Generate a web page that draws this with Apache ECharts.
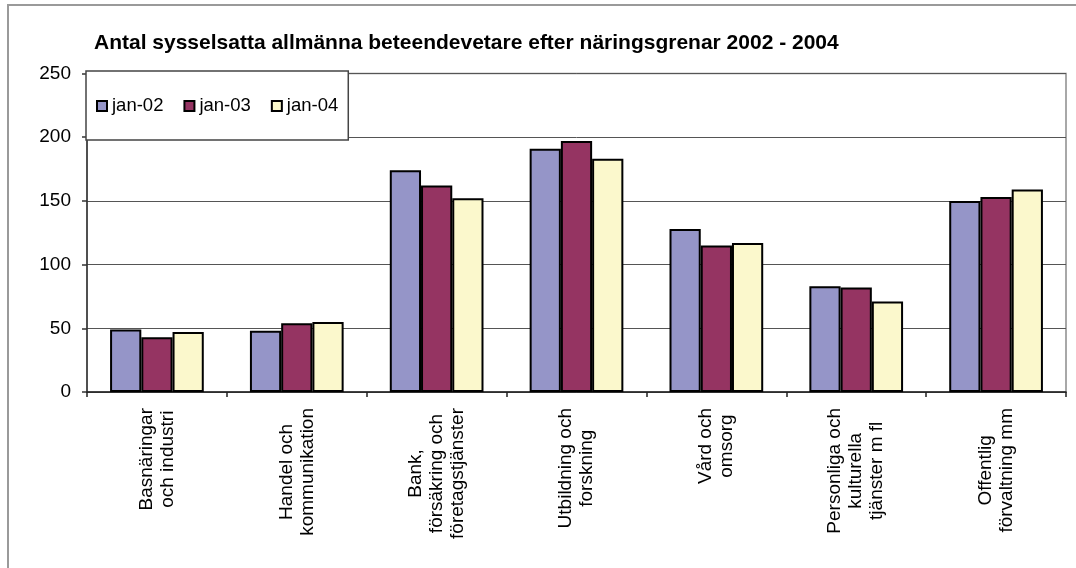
<!DOCTYPE html>
<html>
<head>
<meta charset="utf-8">
<title>Antal sysselsatta allmänna beteendevetare</title>
<script src="https://cdn.jsdelivr.net/npm/echarts@6/dist/echarts.min.js"></script>
<style>
  html, body { margin: 0; padding: 0; background: #fff; }
  #chart { width: 1076px; height: 568px; }
</style>
</head>
<body>
<div id="chart"></div>
<script>
  var categories = [
    'Basnäringar\noch industri',
    'Handel och\nkommunikation',
    'Bank,\nförsäkring och\nföretagstjänster',
    'Utbildning och\nforskning',
    'Vård och\nomsorg',
    'Personliga och\nkulturella\ntjänster m fl',
    'Offentlig\nförvaltning mm'
  ];
  var seriesNames = ['jan-02', 'jan-03', 'jan-04'];
  var jan02 = [49, 48, 174, 191, 128, 83, 150];
  var jan03 = [43, 54, 162, 197, 115, 82, 153];
  var jan04 = [47, 55, 152, 183, 117, 71, 159];
  var yTicks = [0, 50, 100, 150, 200, 250];

  var colors = ['#9595c8', '#953462', '#fbf8cc'];
  var font = "'Liberation Sans', Arial, sans-serif";

  var chart = echarts.init(document.getElementById('chart'));

  function barSeries(name, data) {
    return {
      name: name,
      type: 'bar',
      data: data,
      barGap: '0%',
      barCategoryGap: '33%',
      itemStyle: {
        borderColor: '#000',
        borderWidth: 2
      }
    };
  }

  // x labels: lines centred on each other, block ends near the axis
  function labelFormatter(value) {
    return value.split('\n').map(function(line) {
      return '{c|' + line + '}';
    }).join('\n');
  }

  var option = {
    animation: false,
    color: colors,
    textStyle: { fontFamily: font },
    graphic: [{
      type: 'rect',
      shape: { x: 8, y: 5, width: 1200, height: 700 },
      style: { fill: 'none', stroke: '#9a9a9a', lineWidth: 2 },
      silent: true
    }],
    title: {
      text: 'Antal sysselsatta allmänna beteendevetare efter näringsgrenar 2002 - 2004',
      left: 94,
      top: 33,
      padding: 0,
      textStyle: {
        fontFamily: font,
        fontSize: 21,
        fontWeight: 'bold',
        color: '#000'
      }
    },
    legend: {
      data: seriesNames,
      left: 86,
      top: 71,
      orient: 'horizontal',
      padding: [25, 10, 24, 10],
      itemGap: 20,
      itemWidth: 10,
      itemHeight: 10,
      icon: 'rect',
      backgroundColor: '#fff',
      borderColor: '#444',
      borderWidth: 1.5,
      borderRadius: 0,
      textStyle: {
        fontFamily: font,
        fontSize: 18.5,
        lineHeight: 20,
        color: '#000'
      }
    },
    grid: {
      left: 87,
      right: 10,
      top: 73.5,
      bottom: 176,
      show: true,
      borderColor: '#8c8c8c',
      borderWidth: 1.5,
      containLabel: false
    },
    xAxis: {
      type: 'category',
      data: categories,
      axisLine: { lineStyle: { color: '#222', width: 1.5 } },
      axisTick: { show: true, length: 5, lineStyle: { color: '#222', width: 1.5 } },
      axisLabel: {
        interval: 0,
        rotate: 90,
        margin: 16,
        fontFamily: font,
        fontSize: 19,
        lineHeight: 21,
        color: '#000',
        formatter: labelFormatter,
        rich: {
          c: {
            align: 'center',
            fontFamily: font,
            fontSize: 19,
            lineHeight: 21,
            color: '#000'
          }
        }
      }
    },
    yAxis: {
      type: 'value',
      min: yTicks[0],
      max: yTicks[yTicks.length - 1],
      interval: yTicks[1] - yTicks[0],
      axisLine: { show: true, lineStyle: { color: '#333', width: 1.5 } },
      axisTick: { show: true, length: 5, lineStyle: { color: '#333', width: 1.5 } },
      axisLabel: {
        margin: 16,
        fontFamily: font,
        fontSize: 19,
        color: '#000'
      },
      splitLine: { show: true, lineStyle: { color: '#555', width: 1 } }
    },
    series: [
      barSeries(seriesNames[0], jan02),
      barSeries(seriesNames[1], jan03),
      barSeries(seriesNames[2], jan04)
    ]
  };

  chart.setOption(option);
</script>
</body>
</html>
